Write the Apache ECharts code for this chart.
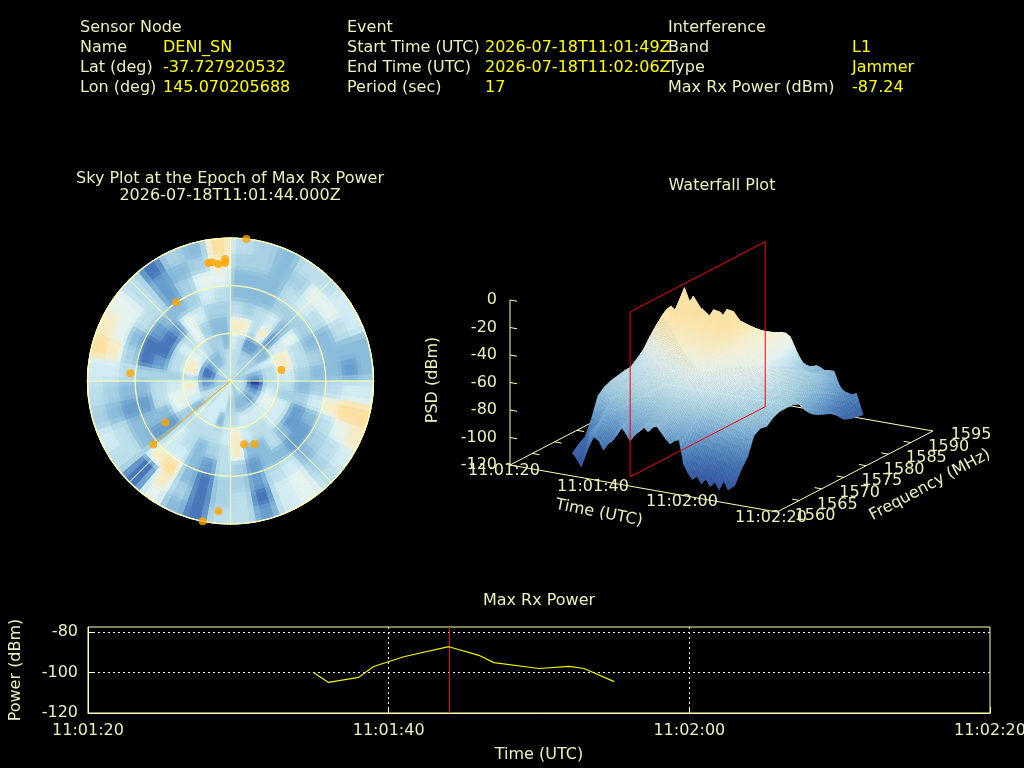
<!DOCTYPE html>
<html><head><meta charset="utf-8">
<style>html,body{margin:0;padding:0;background:#000}#c{width:1024px;height:768px}</style>
<script src="https://cdn.jsdelivr.net/npm/echarts@6/dist/echarts.min.js"></script>
</head><body><div id="c"></div>
<script>
// ---------- header text ----------
const headerLabels = [
  ['Sensor Node',80,28],['Name',80,48],['Lat (deg)',80,68],['Lon (deg)',80,88],
  ['Event',347,28],['Start Time (UTC)',347,48],['End Time (UTC)',347,68],['Period (sec)',347,88],
  ['Interference',668,28],['Band',668,48],['Type',668,68],['Max Rx Power (dBm)',668,88]
];
const headerValues = [
  ['DENI_SN',163,48],['-37.727920532',163,68],['145.070205688',163,88],
  ['2026-07-18T11:01:49Z',485,48],['2026-07-18T11:02:06Z',485,68],['17',485,88],
  ['L1',852,48],['Jammer',852,68],['-87.24',852,88]
];
// ---------- Max Rx Power (seconds after 11:01:20, dBm) ----------
const powerSeconds = [15,16,18,19,21,24,26,27,30,32,33,35];
const powerValues  = [-100,-104.9,-102.4,-97,-92.2,-87.24,-91.5,-95.1,-98,-97,-98,-104.5];
const epochSecond  = 24;
const timeLabels   = ['11:01:20','11:01:40','11:02:00','11:02:20'];
const timeSeconds  = [0,20,40,60];
// ---------- Sky plot ----------
const satAzimuth   = [6.4,349.3,351.2,354.1,357.5,357.4,325.5,77.8,274.4,237.5,230.6,167.8,159.1,185.3,191.2];
const satElevation = [0,14.5,14.3,16,13.2,15.7,29.8,57.3,26.7,41.4,27.1,49.3,47.5,7.6,0];
const skyPalette = ['#2d3f96','#4a78ba','#6a9fce','#8cbcdb','#a8d2e4','#bcdfeb','#d2ecf3','#e6f3ee','#f6ecc6','#fbe0a2'];
// one row per 10 deg azimuth sector, clockwise from north; columns go from zenith to horizon
const skyLevels = [
 [5,5,6,8,5,3,3,4,5],[5,5,5,8,4,3,3,4,4],[5,4,2,5,5,3,3,3,3],[5,4,2,8,6,4,5,4,5],
 [4,4,3,2,3,4,6,7,5],[4,4,3,6,7,4,5,7,6],[4,5,6,8,5,3,3,5,6],[4,3,5,8,5,4,3,3,3],
 [4,2,5,6,4,3,3,2,3],[5,0,5,5,3,4,5,6,6],[5,1,6,4,4,6,8,9,9],[5,2,7,6,2,3,5,7,8],
 [5,3,7,6,2,2,4,5,6],[5,2,6,6,3,2,3,4,5],[5,3,6,5,5,3,6,7,7],[4,3,6,5,3,3,5,6,6],
 [4,3,6,6,3,2,2,1,2],[5,4,5,8,8,4,4,5,5],[5,4,5,6,5,5,4,4,5],[6,6,3,5,4,2,1,1,1],
 [6,6,6,5,3,3,3,4,3],[6,6,6,5,5,6,9,8,7],[5,5,6,5,6,6,8,1,1],[5,5,3,4,2,2,3,5,5],
 [5,5,6,7,3,3,3,5,6],[4,3,7,7,5,2,2,3,4],[4,2,8,6,5,3,3,4,5],[4,2,5,4,4,4,5,6,6],
 [4,1,8,5,2,1,4,8,9],[4,1,8,5,1,1,3,7,8],[5,2,7,6,1,2,5,7,7],[5,3,6,5,2,3,5,5,5],
 [5,3,5,7,7,3,2,2,1],[5,3,4,4,6,4,4,3,4],[5,4,4,3,4,6,7,4,3],[5,5,3,3,4,5,7,8,9]
];
// ---------- Waterfall ----------
const psdTimes = [11,12,13,14,15,16,17,18,19,20,21,22,23,24,25,26,27,28,29,30,31,32,33,34,35,36,37,38,39,40,41,42,43,44,45,46,47.5];
const psdFreqs = [1563,1564.44,1565.88,1567.32,1568.76,1570.2,1571.64,1573.08,1574.52,1575.96,1577.4,1578.84,1580.28,1581.72,1583.16,1584.6,1586.04,1587.48,1588.92,1590.36,1591.8];
const psdGrid = [
 [-110,-106,-103,-92,-78,-74,-72,-71,-70,-70,-66,-62,-55,-49,-44,-52,-64,-74,-84,-92,-100],
 [-114,-109,-101,-92,-79,-73,-71,-70,-68,-67,-64,-58,-52,-46,-39,-47,-60,-70,-82,-91,-99],
 [-119,-108,-100,-90,-76,-72,-70,-69,-68,-66,-62,-56,-50,-44,-36,-44,-56,-68,-80,-90,-98],
 [-106,-101,-94,-85,-76,-72,-69,-68,-66,-64,-60,-54,-48,-41,-40,-42,-54,-66,-78,-88,-97],
 [-93,-90,-86,-80,-74,-71,-69,-67,-65,-62,-58,-52,-46,-38,-33,-40,-52,-64,-76,-86,-96],
 [-96,-92,-87,-80,-74,-70,-68,-66,-63,-60,-56,-50,-42,-30,-21,-36,-50,-62,-74,-84,-94],
 [-98,-93,-87,-81,-74,-69,-67,-65,-62,-59,-55,-49,-43,-40,-41,-43,-49,-61,-73,-83,-93],
 [-104,-94,-88,-80,-73,-69,-67,-64,-61,-58,-54,-48,-40,-31,-26,-36,-48,-60,-72,-82,-92],
 [-99,-97,-88,-79,-72,-68,-66,-63,-60,-56,-52,-47,-42,-42,-46,-48,-50,-60,-71,-83,-91],
 [-96,-92,-85,-78,-71,-67,-65,-62,-59,-56,-51,-46,-39,-33,-34,-41,-49,-60,-71,-82,-90],
 [-90,-86,-83,-77,-71,-67,-64,-61,-58,-55,-50,-45,-41,-40,-42,-45,-50,-60,-70,-81,-90],
 [-85,-84,-81,-76,-70,-66,-63,-60,-57,-54,-49,-44,-42,-42,-44,-46,-50,-58,-69,-80,-89],
 [-89,-86,-82,-76,-70,-66,-63,-60,-57,-53,-48,-44,-40,-36,-38,-43,-49,-57,-68,-80,-88],
 [-94,-88,-83,-76,-70,-66,-62,-59,-56,-52,-48,-43,-35,-30,-34,-42,-48,-56,-67,-79,-88],
 [-89,-86,-81,-75,-69,-65,-62,-59,-55,-52,-47,-43,-41,-42,-44,-45,-47,-55,-66,-78,-87],
 [-86,-84,-80,-75,-69,-65,-61,-58,-55,-51,-47,-42,-38,-37,-41,-43,-47,-55,-66,-78,-87],
 [-82,-81,-78,-73,-68,-64,-60,-57,-54,-50,-46,-41,-33,-28,-32,-41,-46,-53,-65,-78,-86],
 [-85,-81,-78,-72,-67,-63,-60,-56,-53,-50,-46,-41,-39,-40,-42,-44,-47,-52,-64,-77,-86],
 [-81,-80,-77,-72,-67,-63,-59,-56,-53,-50,-46,-43,-39,-38,-41,-44,-48,-52,-62,-77,-85],
 [-80,-80,-77,-72,-67,-63,-59,-56,-54,-52,-50,-49,-48,-48,-49,-50,-51,-52,-58,-76,-85],
 [-84,-82,-78,-72,-67,-63,-60,-57,-55,-54,-53,-52,-52,-51,-51,-51,-51,-52,-55,-76,-84],
 [-88,-85,-79,-73,-67,-63,-60,-58,-56,-55,-54,-53,-53,-52,-52,-52,-52,-52,-54,-75,-84],
 [-91,-86,-80,-73,-67,-63,-60,-58,-57,-55,-54,-53,-53,-53,-53,-53,-53,-53,-54,-75,-84],
 [-88,-85,-80,-74,-68,-64,-61,-59,-57,-56,-55,-54,-54,-54,-54,-54,-54,-54,-56,-76,-83],
 [-87,-84,-80,-74,-68,-64,-61,-59,-58,-57,-56,-55,-55,-55,-55,-55,-55,-56,-63,-76,-83],
 [-104,-95,-86,-76,-69,-65,-62,-60,-58,-57,-56,-56,-56,-56,-56,-57,-59,-64,-72,-78,-82],
 [-110,-100,-88,-78,-70,-66,-63,-61,-60,-58,-57,-57,-58,-59,-60,-63,-68,-74,-78,-80,-80],
 [-114,-99,-90,-78,-71,-66,-63,-61,-60,-59,-58,-58,-60,-62,-64,-67,-71,-75,-78,-79,-81],
 [-111,-102,-89,-79,-71,-67,-64,-62,-61,-60,-60,-60,-62,-64,-67,-70,-73,-76,-79,-81,-83],
 [-116,-105,-92,-80,-72,-68,-65,-63,-62,-62,-61,-62,-64,-66,-68,-71,-73,-77,-79,-80,-82],
 [-112,-103,-90,-80,-73,-69,-66,-64,-63,-63,-63,-64,-66,-68,-70,-72,-74,-77,-79,-81,-82],
 [-117,-106,-93,-81,-74,-70,-68,-66,-65,-64,-65,-66,-68,-70,-72,-74,-76,-78,-80,-84,-90],
 [-113,-104,-92,-82,-75,-71,-69,-67,-66,-66,-67,-68,-70,-72,-74,-75,-77,-79,-82,-86,-97],
 [-118,-107,-96,-83,-76,-72,-70,-69,-68,-68,-69,-71,-73,-75,-76,-78,-80,-83,-86,-92,-96],
 [-111,-102,-94,-83,-77,-74,-72,-70,-70,-70,-71,-73,-75,-77,-79,-81,-83,-86,-90,-94,-97],
 [-117,-106,-99,-88,-79,-77,-75,-73,-72,-73,-74,-78,-82,-85,-88,-90,-94,-98,-100,-99,-95],
 [-113,-104,-97,-84,-81,-82,-78,-76,-76,-76,-78,-85,-90,-93,-95,-97,-101,-106,-108,-109,-110]
];
const psdColorLevels = [-115,-105,-95,-85,-75,-66,-59,-52,-46,-38];
const psdColors = ['#3a5ca8','#4470b3','#5a8ec4','#7fb0d8','#a5d0e3','#c8e6f0','#e6f3f2','#f4f1d6','#f9e9bc','#fae2a6'];
const psdTicks  = [0,-20,-40,-60,-80,-100,-120];
const freqTicks = [1560,1565,1570,1575,1580,1585,1590,1595];
const epochPlaneFreq = [1563,1593.3];

const CREAM='#eeeebb', LINE='#ffffb4', YEL='#ffff00', FONT='"DejaVu Sans"';
const F16='16px '+FONT;

const view = {ox:510,oy:465,tx:267,ty:47,fx:156,fy:-81,zy:-165};
function project(t,f,z){
  const a=t/60,b=(f-1560)/35,c=(z+120)/120;
  return [view.ox+a*view.tx+b*view.fx, view.oy+a*view.ty+b*view.fy+c*view.zy];
}
function psdColor(z){
  const L=psdColorLevels,n=L.length;
  if(z<=L[0])return psdColors[0];
  if(z>=L[n-1])return psdColors[n-1];
  let i=0;while(z>L[i+1])i++;
  return echarts.color.lerp((z-L[i])/(L[i+1]-L[i]),[psdColors[i],psdColors[i+1]]);
}
// the surface is shaded on a finer raster, farthest facets first
const SHADE=3;
const surfaceCells=[];
for(let i=0;i<psdTimes.length-1;i++)for(let a=0;a<SHADE;a++)
  for(let j=psdFreqs.length-2;j>=0;j--)for(let b=SHADE-1;b>=0;b--)surfaceCells.push([i+a/SHADE,j+b/SHADE]);
function surfaceAt(u,v){
  const i=Math.min(Math.floor(u+1e-6),psdTimes.length-2),j=Math.min(Math.floor(v+1e-6),psdFreqs.length-2);
  const a=u-i,b=v-j;
  const z=(psdGrid[i][j]*(1-b)+psdGrid[i][j+1]*b)*(1-a)+(psdGrid[i+1][j]*(1-b)+psdGrid[i+1][j+1]*b)*a;
  const t=psdTimes[i]+(psdTimes[i+1]-psdTimes[i])*a,f=psdFreqs[j]+(psdFreqs[j+1]-psdFreqs[j])*b;
  return [t,f,z];
}
function surfaceItem(params,api){
  const u=api.value(0),v=api.value(1),d=1/SHADE;
  const c=[surfaceAt(u,v),surfaceAt(u+d,v),surfaceAt(u+d,v+d),surfaceAt(u,v+d)];
  const col=psdColor((c[0][2]+c[1][2]+c[2][2]+c[3][2])/4);
  return {type:'polygon',shape:{points:c.map(q=>api.coord(project(q[0],q[1],q[2])))},style:{fill:col,stroke:col,lineWidth:0.5}};
}
const segs=[];
segs.push([[0,1560,-120],[60,1560,-120]]);
segs.push([[60,1560,-120],[60,1595,-120]]);
segs.push([[0,1560,-120],[0,1595,-120]]);
segs.push([[0,1595,-120],[60,1595,-120]]);
segs.push([[0,1560,-120],[0,1560,0]]);
psdTicks.forEach(z=>{segs.push([[0,1560,z],[1.6,1560,z]]);});
freqTicks.slice(1,-1).forEach(f=>{segs.push([[60,f,-120],[58.4,f,-120]]);segs.push([[0,f,-120],[1.6,f,-120]]);});

const texts3d=[];
psdTicks.forEach(z=>{const p=project(0,1560,z);texts3d.push({s:String(z),x:p[0]-13,y:p[1]+0,a:'right'});});
timeSeconds.forEach((t,i)=>{const p=project(t,1560,-120);texts3d.push({s:timeLabels[i],x:p[0]-6,y:p[1]+6,a:'center'});});
freqTicks.forEach(f=>{const p=project(60,f,-120);texts3d.push({s:String(f),x:p[0]+38,y:p[1]+4,a:'center'});});
texts3d.push({s:'Time (UTC)',x:599,y:513,a:'center',r:-11});
texts3d.push({s:'Frequency (MHz)',x:930,y:485,a:'center',r:28});
texts3d.push({s:'PSD (dBm)',x:433,y:380,a:'center',r:90});
texts3d.push({s:'Waterfall Plot',x:722,y:186,a:'center'});

// sky cells are shaded on a finer raster
const SUB=2.5;
const skyCells=[];
for(let az=0;az<360;az+=SUB)for(let el=0;el<90;el+=SUB)skyCells.push([el,az]);
function skyLevelAt(el,az){
  const fa=((az+SUB/2)-5)/10, fr=(90-(el+SUB/2)-5)/10;
  const a0=Math.floor(fa),r0=Math.max(0,Math.floor(fr)),r1=Math.min(8,r0+1);
  const s=x=>{x=Math.min(1,Math.max(0,(x-0.2)/0.6));return x*x*(3-2*x);};
  const wa=s(fa-a0),wr=fr<0?0:s(fr-r0);
  const A=i=>skyLevels[(i+36)%36];
  const v0=A(a0)[r0]*(1-wr)+A(a0)[r1]*wr, v1=A(a0+1)[r0]*(1-wr)+A(a0+1)[r1]*wr;
  return v0*(1-wa)+v1*wa;
}
function skyItem(params,api){
  const el=api.value(0),az=api.value(1);
  const c=echarts.color.lerp(skyLevelAt(el,az)/9,skyPalette);
  const pts=[api.coord([el,az]),api.coord([el,az+SUB]),api.coord([el+SUB,az+SUB]),api.coord([el+SUB,az])];
  return {type:'polygon',shape:{points:pts},style:{fill:c,stroke:c,lineWidth:1.2}};
}

const graphicEls=[];
headerLabels.forEach(h=>graphicEls.push({type:'text',x:h[1],y:h[2],style:{text:h[0],fill:CREAM,font:F16,textVerticalAlign:'middle'}}));
headerValues.forEach(h=>graphicEls.push({type:'text',x:h[1],y:h[2],style:{text:h[0],fill:YEL,font:F16,textVerticalAlign:'middle'}}));
[['Sky Plot at the Epoch of Max Rx Power',230,179],['2026-07-18T11:01:44.000Z',230,196],['Max Rx Power',539,601]].forEach(h=>
  graphicEls.push({type:'text',x:h[1],y:h[2],style:{text:h[0],fill:CREAM,font:F16,textAlign:'center',textVerticalAlign:'middle'}}));

const chart=echarts.init(document.getElementById('c'),null,{renderer:'canvas'});
chart.setOption({
  backgroundColor:'#000',animation:false,
  graphic:{elements:graphicEls},
  grid:[
    {left:88,top:627,width:902,height:86,show:true,borderColor:LINE,borderWidth:1,backgroundColor:'transparent',z:3,outerBoundsMode:'none'},
    {left:0,top:0,width:1024,height:768,show:false,outerBoundsMode:'none'}
  ],
  xAxis:[
    {gridIndex:0,type:'value',min:0,max:60,interval:20,
     axisLine:{show:true,lineStyle:{color:LINE}},axisTick:{inside:true,length:6,lineStyle:{color:LINE}},
     axisLabel:{color:CREAM,fontFamily:FONT,fontSize:16,margin:10,hideOverlap:false,formatter:v=>timeLabels[timeSeconds.indexOf(v)]||''},
     splitLine:{show:true,showMinLine:false,showMaxLine:false,lineStyle:{color:'#ffffff',type:[2,3],width:1}},
     name:'Time (UTC)',nameLocation:'middle',nameGap:34,nameTextStyle:{color:CREAM,fontFamily:FONT,fontSize:16}},
    {gridIndex:1,type:'value',min:0,max:1024,show:false}
  ],
  yAxis:[
    {gridIndex:0,type:'value',min:-120,max:-77.5,interval:20,
     axisLine:{show:true,lineStyle:{color:LINE}},axisTick:{inside:true,length:6,lineStyle:{color:LINE}},
     axisLabel:{color:CREAM,fontFamily:FONT,fontSize:16,margin:10,showMaxLabel:false,formatter:v=>String(v)},
     splitLine:{show:true,showMinLine:false,showMaxLine:false,lineStyle:{color:'#ffffff',type:[2,3],width:1}},
     name:'Power (dBm)',nameLocation:'middle',nameGap:64,nameTextStyle:{color:CREAM,fontFamily:FONT,fontSize:16}},
    {gridIndex:1,type:'value',min:0,max:768,inverse:true,show:false}
  ],
  polar:{center:[230.5,381],radius:143},
  angleAxis:{min:0,max:360,interval:45,startAngle:90,clockwise:true,z:5,
    axisLine:{show:true,lineStyle:{color:LINE,width:1.2}},axisTick:{show:false},axisLabel:{show:false},
    splitLine:{show:true,lineStyle:{color:LINE,width:1}}},
  radiusAxis:{min:0,max:90,interval:30,inverse:true,z:5,
    axisLine:{show:false},axisTick:{show:false},axisLabel:{show:false},
    splitLine:{show:true,lineStyle:{color:LINE,width:1.2}}},
  series:[
    {type:'custom',coordinateSystem:'polar',data:skyCells,encode:{radius:0,angle:1},renderItem:skyItem,z:2,silent:true,progressive:0},
    {type:'line',coordinateSystem:'polar',data:[[90,satAzimuth[10]],[satElevation[10],satAzimuth[10]]],showSymbol:false,lineStyle:{color:'#ffa500',width:1},z:6,silent:true},
    {type:'scatter',coordinateSystem:'polar',data:satAzimuth.map((a,i)=>[satElevation[i],a]),symbolSize:8,itemStyle:{color:'#ffa500'},z:7,silent:true},
    {type:'custom',xAxisIndex:1,yAxisIndex:1,data:segs.map((s,i)=>[i,0]),z:2,silent:true,
     renderItem:(p,api)=>{const s=segs[api.value(0)];const a=api.coord(project(...s[0])),b=api.coord(project(...s[1]));
       return {type:'line',shape:{x1:a[0],y1:a[1],x2:b[0],y2:b[1]},style:{stroke:LINE,lineWidth:1}};}},
    {type:'custom',xAxisIndex:1,yAxisIndex:1,data:surfaceCells,renderItem:surfaceItem,z:3,silent:true,progressive:0},
    {type:'custom',xAxisIndex:1,yAxisIndex:1,data:[[epochSecond,0]],z:4,silent:true,
     renderItem:(p,api)=>{const t=api.value(0);
       const pts=[[t,epochPlaneFreq[0],-120],[t,epochPlaneFreq[0],0],[t,epochPlaneFreq[1],0],[t,epochPlaneFreq[1],-120]].map(q=>api.coord(project(...q)));
       return {type:'polygon',shape:{points:pts},style:{fill:'none',stroke:'#ff0000',lineWidth:1}};}},
    {type:'custom',xAxisIndex:1,yAxisIndex:1,data:texts3d.map((s,i)=>[i,0]),z:5,silent:true,
     renderItem:(p,api)=>{const d=texts3d[api.value(0)];
       return {type:'text',x:d.x,y:d.y,rotation:d.r?d.r*Math.PI/180:0,style:{text:d.s,fill:CREAM,font:F16,textAlign:d.a,textVerticalAlign:'middle'}};}},
    {type:'line',xAxisIndex:0,yAxisIndex:0,data:powerSeconds.map((s,i)=>[s,powerValues[i]]),showSymbol:false,lineStyle:{color:'#f0f000',width:1.2},z:4,silent:true},
    {type:'custom',xAxisIndex:0,yAxisIndex:0,data:[[epochSecond,-120]],z:4,silent:true,
     renderItem:(p,api)=>{const a=api.coord([api.value(0),-120]),b=api.coord([api.value(0),-77.5]);const x=Math.round(a[0])+0.5;
       return {type:'line',shape:{x1:x,y1:a[1],x2:x,y2:b[1]},style:{stroke:'#ff0000',lineWidth:1}};}}
  ]
});
</script></body></html>
